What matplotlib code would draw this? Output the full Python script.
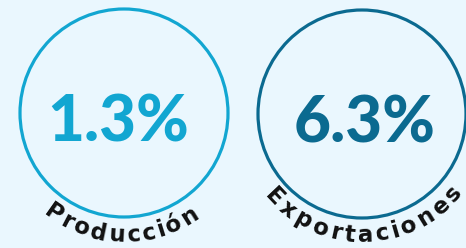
import matplotlib.pyplot as plt
from matplotlib.patches import Circle
import numpy as np

values = [1.3, 6.3]
labels = ['Producción', 'Exportaciones']
colors = ['#12a6d1', '#0b6a90']

BG = '#eaf7fe'
W, H = 466, 248

fig = plt.figure(figsize=(W / 100, H / 100), dpi=100, facecolor=BG)
ax = fig.add_axes([0, 0, 1, 1])
ax.set_xlim(0, W)
ax.set_ylim(H, 0)
ax.set_aspect('equal')
ax.axis('off')
ax.set_facecolor(BG)

centers = [(124, 113), (362, 114)]
radius = 104
label_r = [129, 128]
label_span = [76, 104]  # total angular span of each label, degrees
label_shift = [1.5, -1]  # arc centre offset from bottom, degrees (positive = left)
label_font = 'DejaVu Sans'


def curved_text(ax, text, cx, cy, r, span, shift, size):
    # measure each char width, then lay them out along the bottom arc
    rend = fig.canvas.get_renderer()
    widths = []
    for ch in text:
        t = ax.text(0, 0, ch, fontsize=size, family=label_font, fontweight='bold')
        widths.append(t.get_window_extent(rend).width)
        t.remove()
    widths = np.array(widths)
    total = widths.sum()
    scale = np.radians(span) * r / total
    pos = np.cumsum(widths) - widths / 2
    for ch, p in zip(text, pos):
        ang = np.radians(90 + shift + span / 2) - p * scale / r
        x = cx + r * np.cos(ang)
        y = cy + r * np.sin(ang)
        rot = 90 - np.degrees(ang)
        ax.text(x, y, ch, fontsize=size, family=label_font, fontweight='bold',
                color='#111111', rotation=rot, rotation_mode='anchor',
                ha='center', va='baseline')


for i, v in enumerate(values):
    cx, cy = centers[i]
    ax.add_patch(Circle((cx, cy), radius, fill=False, lw=2.3, ec=colors[i]))
    ax.text(cx - 6 if i == 0 else cx + 3, cy + 10, f'{v}%', fontsize=46, family='Lato',
            fontweight='black', color=colors[i], ha='center', va='center')
    curved_text(ax, labels[i], cx, cy, label_r[i], label_span[i], label_shift[i], 16.5)

fig.savefig('out.png', dpi=100, facecolor=BG)
